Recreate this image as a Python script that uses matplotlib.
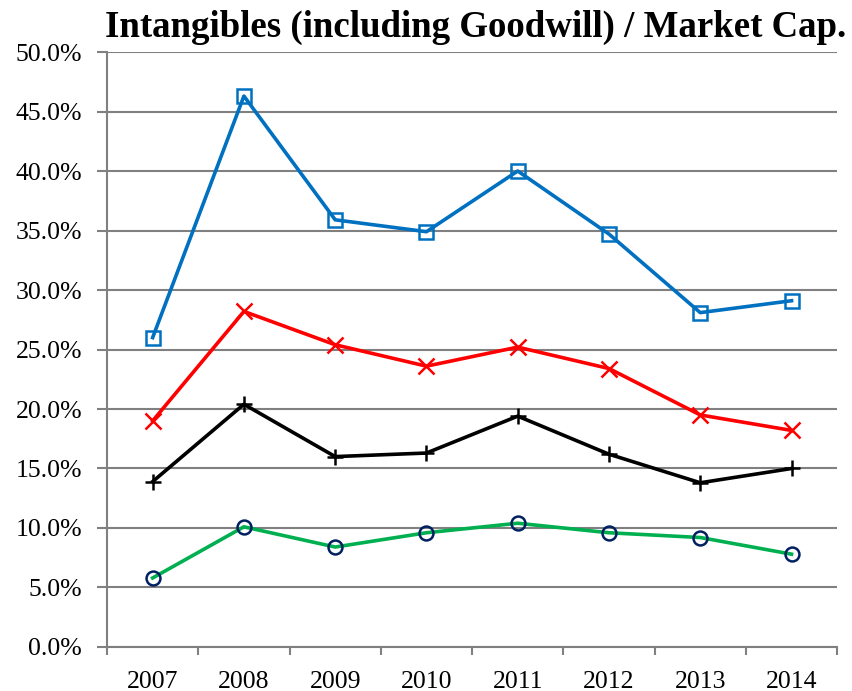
import matplotlib
matplotlib.use("Agg")
import matplotlib.pyplot as plt
from matplotlib.ticker import FuncFormatter, FixedLocator
import numpy as np

years = ["2007", "2008", "2009", "2010", "2011", "2012", "2013", "2014"]
blue_vals = [26.0, 46.3, 35.9, 34.9, 40.0, 34.7, 28.1, 29.1]
red_vals = [19.0, 28.2, 25.4, 23.6, 25.2, 23.4, 19.5, 18.2]
black_vals = [13.9, 20.4, 16.0, 16.3, 19.4, 16.2, 13.8, 15.0]
green_vals = [5.8, 10.1, 8.4, 9.6, 10.4, 9.6, 9.2, 7.8]

plt.rcParams['font.family'] = ['Liberation Serif', 'DejaVu Serif']

fig = plt.figure(figsize=(8.52, 6.91), dpi=100)
ax = fig.add_axes([0.1256, 0.0637, 0.857, 0.861])

x = np.arange(len(years))
grid_c = "#808080"

ax.plot(x, blue_vals, color="#0070C0", lw=2.6, marker="s", ms=10,
        mfc="none", mec="#0070C0", mew=1.8, zorder=3)
ax.plot(x, red_vals, color="#FF0000", lw=2.6, marker="x", ms=11,
        mec="#FF0000", mew=1.8, zorder=3)
ax.plot(x, black_vals, color="black", lw=2.6, marker="+", ms=12,
        mec="black", mew=1.8, zorder=3)
ax.plot(x, green_vals, color="#00B050", lw=2.6, marker="o", ms=10,
        mfc="none", mec="#002060", mew=1.8, zorder=3)

ax.set_xlim(-0.5, len(years) - 0.5)
ax.set_ylim(0, 50)
ax.set_yticks(np.arange(0, 50.1, 5))
ax.yaxis.set_major_formatter(FuncFormatter(lambda v, p: f"{v:.1f}%"))
ax.yaxis.grid(True, color=grid_c, lw=1.5)
ax.set_axisbelow(True)

ax.set_xticks(x)
ax.set_xticklabels(years)
ax.xaxis.set_minor_locator(FixedLocator(np.arange(-0.5, len(years), 1)))
ax.tick_params(axis="x", which="major", length=0, labelsize=18.5, pad=17)
ax.tick_params(axis="x", which="minor", length=6, width=1.5, color=grid_c)
ax.tick_params(axis="y", length=7, width=1.5, color=grid_c, labelsize=18.5, pad=11)

for s in ["top", "right"]:
    ax.spines[s].set_visible(False)
for s in ["left", "bottom"]:
    ax.spines[s].set_color(grid_c)
    ax.spines[s].set_linewidth(1.5)

fig.text(0.558, 0.946, "Intangibles (including Goodwill) / Market Cap.",
         ha="center", va="baseline", fontsize=26.6, fontweight="bold")

fig.savefig("out.png", dpi=100)
